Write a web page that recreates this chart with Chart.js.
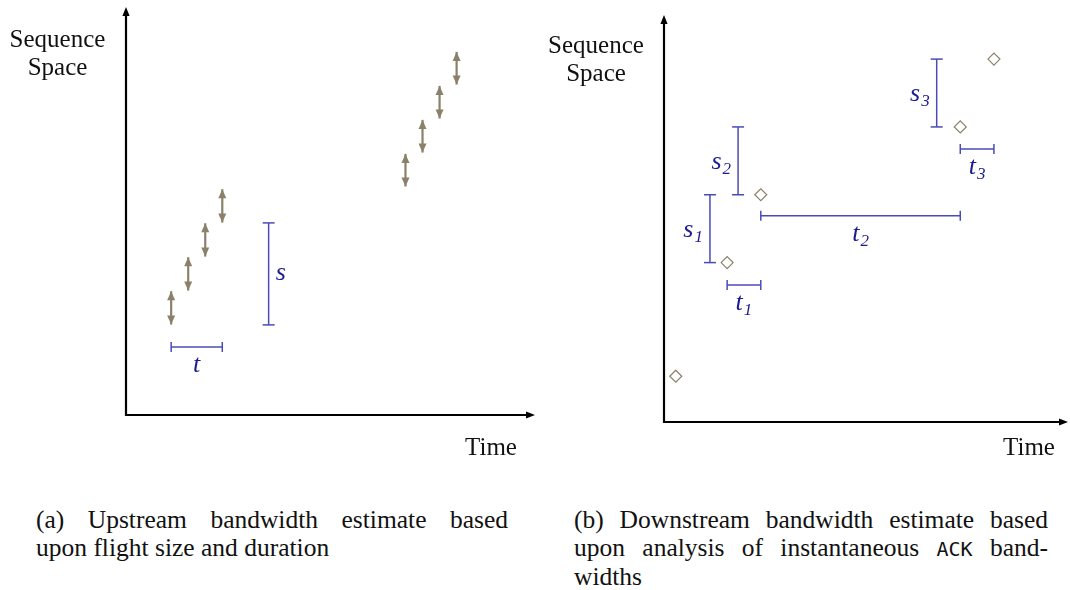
<!DOCTYPE html>
<html>
<head>
<meta charset="utf-8">
<script src="https://cdn.jsdelivr.net/npm/chart.js@4.4.1/dist/chart.umd.min.js"></script>
<style>
  html, body { margin: 0; padding: 0; background: #fff; }
  body { width: 1070px; height: 590px; position: relative; overflow: hidden; }
  canvas { position: absolute; top: 0; }
  #upstream { left: 0; }
  #downstream { left: 540px; }
  .cap { position: absolute; font-family: "Liberation Serif", "Times New Roman", serif; font-size: 25.5px; line-height: 28px; color: #111; }
  .cap div { text-align: justify; text-align-last: justify; }
  .cap div.last { text-align: left; text-align-last: left; }
  .cap code { font-family: "DejaVu Sans Mono", "Liberation Mono", monospace; font-size: 20px; }
  #capA { left: 36px; top: 506px; width: 472px; }
  #capB { left: 574px; top: 506px; width: 474px; }
</style>
</head>
<body>
<canvas id="upstream" width="545" height="470"></canvas>
<canvas id="downstream" width="530" height="470"></canvas>
<div class="cap" id="capA">
  <div>(a) Upstream bandwidth estimate based</div>
  <div class="last">upon flight size and duration</div>
</div>
<div class="cap" id="capB">
  <div>(b) Downstream bandwidth estimate based</div>
  <div>upon analysis of instantaneous <code>ACK</code> band-</div>
  <div class="last">widths</div>
</div>
<script>
// ---- Panel (a): two flights of packets (time, sequence range) ----
const flight1Times = [2.65, 3.65, 4.65, 5.65];
const flight1Seq = [[2.66, 3.64], [3.66, 4.64], [4.66, 5.64], [5.66, 6.64]];
const flight2Times = [16.4, 17.4, 18.4, 19.4];
const flight2Seq = [[6.72, 7.68], [7.72, 8.68], [8.72, 9.68], [9.72, 10.68]];
// flight size s (vertical extent) and duration t (horizontal extent)
const sizeTime = 8.37;
const sizeSpan = [2.65, 5.65];
const durationLevel = 2.0;
const durationSpan = [2.65, 5.65];

// ---- Panel (b): ACK arrivals ----
const ackTimes = [0.7, 3.75, 5.75, 17.6, 19.6];
const ackSeq = [1.35, 4.7, 6.7, 8.7, 10.7];
const gapNames = ['1', '2', '3'];
const seqGapTimes = [2.73, 4.4, 16.2];
const timeGapLevels = [4.04, 6.08, 8.05];

const axisRange = { xMax: 24, yMax: 12 };

const TAN = '#8b806a';
const BAR_BLUE = '#4b4bb8';
const LABEL_BLUE = '#1c1c8e';
const SERIF = '"Liberation Serif", "Times New Roman", serif';

// Axes drawn as arrows from the chart area corner, plus the axis titles
const axisArrows = {
  id: 'axisArrows',
  beforeDatasetsDraw(chart, args, opts) {
    const { ctx, chartArea: a } = chart;
    ctx.save();
    ctx.strokeStyle = '#000';
    ctx.fillStyle = '#000';
    ctx.lineWidth = 2.2;
    ctx.lineJoin = 'miter';
    ctx.beginPath();
    ctx.moveTo(a.left, a.top + 6);
    ctx.lineTo(a.left, a.bottom);
    ctx.lineTo(a.right - 6, a.bottom);
    ctx.stroke();
    ctx.beginPath();
    ctx.moveTo(a.left, a.top);
    ctx.lineTo(a.left - 3.6, a.top + 9);
    ctx.lineTo(a.left + 3.6, a.top + 9);
    ctx.closePath();
    ctx.fill();
    ctx.beginPath();
    ctx.moveTo(a.right, a.bottom);
    ctx.lineTo(a.right - 9, a.bottom - 3.6);
    ctx.lineTo(a.right - 9, a.bottom + 3.6);
    ctx.closePath();
    ctx.fill();
    ctx.fillStyle = '#111';
    ctx.font = '25px ' + SERIF;
    ctx.textAlign = 'center';
    ctx.textBaseline = 'middle';
    opts.yTitle.forEach((line, i) => ctx.fillText(line, a.left + opts.yDx, a.top + opts.yDy + i * 28));
    ctx.fillText(opts.xTitle, a.right + opts.xDx, a.bottom + opts.xDy);
    ctx.restore();
  }
};

// Arrowheads on both ends of every floating bar marked doubleHeaded
const doubleHeads = {
  id: 'doubleHeads',
  afterDatasetsDraw(chart) {
    const ctx = chart.ctx;
    chart.data.datasets.forEach((ds, i) => {
      if (!ds.doubleHeaded) return;
      const meta = chart.getDatasetMeta(i);
      ctx.save();
      ctx.fillStyle = ds.backgroundColor;
      meta.data.forEach(bar => {
        const { x, y, base } = bar.getProps(['x', 'y', 'base'], true);
        const top = Math.min(y, base), bot = Math.max(y, base);
        const len = 9, hw = 4;
        ctx.beginPath();
        ctx.moveTo(x, top);
        ctx.lineTo(x - hw, top + len);
        ctx.lineTo(x + hw, top + len);
        ctx.closePath();
        ctx.fill();
        ctx.beginPath();
        ctx.moveTo(x, bot);
        ctx.lineTo(x - hw, bot - len);
        ctx.lineTo(x + hw, bot - len);
        ctx.closePath();
        ctx.fill();
      });
      ctx.restore();
    });
  }
};

// Italic names (with optional subscript) beside each interval marker
const intervalLabels = {
  id: 'intervalLabels',
  afterDatasetsDraw(chart) {
    const ctx = chart.ctx;
    chart.data.datasets.forEach((ds, i) => {
      if (!ds.gapLabel) return;
      const [p0, p1] = chart.getDatasetMeta(i).data;
      const mx = (p0.x + p1.x) / 2, my = (p0.y + p1.y) / 2;
      const mainFont = 'italic 26px ' + SERIF;
      const subFont = 'italic 17px ' + SERIF;
      ctx.save();
      ctx.fillStyle = LABEL_BLUE;
      ctx.textAlign = 'left';
      ctx.textBaseline = 'alphabetic';
      ctx.font = mainFont;
      const w1 = ctx.measureText(ds.gapLabel).width;
      ctx.font = subFont;
      const w2 = ds.gapSub ? ctx.measureText(ds.gapSub).width + 1 : 0;
      const w = w1 + w2;
      let x, y;
      if (ds.gapSide === 'left') { x = mx - 7 - w; y = my + 8; }
      else if (ds.gapSide === 'right') { x = mx + 7; y = my + 6; }
      else { x = mx - w / 2; y = my + 25; }
      ctx.font = mainFont;
      ctx.fillText(ds.gapLabel, x, y);
      if (ds.gapSub) {
        ctx.font = subFont;
        ctx.fillText(ds.gapSub, x + w1 + 1, y + 5);
      }
      ctx.restore();
    });
  }
};

function intervalDataset(points, vertical, label, sub, side) {
  return {
    type: 'line',
    data: points,
    borderColor: BAR_BLUE,
    borderWidth: 1.5,
    pointStyle: 'line',
    pointRotation: vertical ? 0 : 90,
    pointRadius: vertical ? 6 : 5,
    pointBorderWidth: 1.5,
    pointBorderColor: BAR_BLUE,
    clip: false,
    gapLabel: label,
    gapSub: sub,
    gapSide: side
  };
}

function flightDataset(times, seq) {
  return {
    type: 'bar',
    data: times.map((t, i) => ({ x: t, y: seq[i] })),
    backgroundColor: TAN,
    grouped: false,
    maxBarThickness: 2.2,
    doubleHeaded: true,
    clip: false
  };
}

function baseOptions(padding, titles) {
  return {
    responsive: false,
    animation: false,
    events: [],
    layout: { padding, autoPadding: false },
    plugins: { legend: { display: false }, tooltip: { enabled: false }, axisArrows: titles },
    scales: {
      x: { type: 'linear', min: 0, max: axisRange.xMax, offset: false, display: false },
      y: { type: 'linear', min: 0, max: axisRange.yMax, display: false }
    }
  };
}

Chart.register(axisArrows, doubleHeads, intervalLabels);

new Chart(document.getElementById('upstream'), {
  type: 'scatter',
  data: {
    datasets: [
      flightDataset(flight1Times, flight1Seq),
      flightDataset(flight2Times, flight2Seq),
      intervalDataset([{ x: sizeTime, y: sizeSpan[0] }, { x: sizeTime, y: sizeSpan[1] }], true, 's', '', 'right'),
      intervalDataset([{ x: durationSpan[0], y: durationLevel }, { x: durationSpan[1], y: durationLevel }], false, 't', '', 'below')
    ]
  },
  options: baseOptions({ left: 126, top: 7, right: 10, bottom: 55 },
    { yTitle: ['Sequence', 'Space'], yDx: -68.5, yDy: 33, xTitle: 'Time', xDx: -44, xDy: 33 })
});

const downstreamSets = [{
  type: 'scatter',
  data: ackTimes.map((t, i) => ({ x: t, y: ackSeq[i] })),
  pointStyle: 'rectRot',
  pointRadius: 6,
  pointBackgroundColor: '#fff',
  pointBorderColor: TAN,
  pointBorderWidth: 1.2,
  showLine: false,
  clip: false
}];
gapNames.forEach((name, i) => {
  const k = i + 1;
  downstreamSets.push(intervalDataset(
    [{ x: seqGapTimes[i], y: ackSeq[k] }, { x: seqGapTimes[i], y: ackSeq[k + 1] }], true, 's', name, 'left'));
  downstreamSets.push(intervalDataset(
    [{ x: ackTimes[k], y: timeGapLevels[i] }, { x: ackTimes[k + 1], y: timeGapLevels[i] }], false, 't', name, 'below'));
});

new Chart(document.getElementById('downstream'), {
  type: 'scatter',
  data: { datasets: downstreamSets },
  options: baseOptions({ left: 124, top: 15, right: 2, bottom: 48 },
    { yTitle: ['Sequence', 'Space'], yDx: -68, yDy: 31, xTitle: 'Time', xDx: -39, xDy: 26 })
});
</script>
</body>
</html>
